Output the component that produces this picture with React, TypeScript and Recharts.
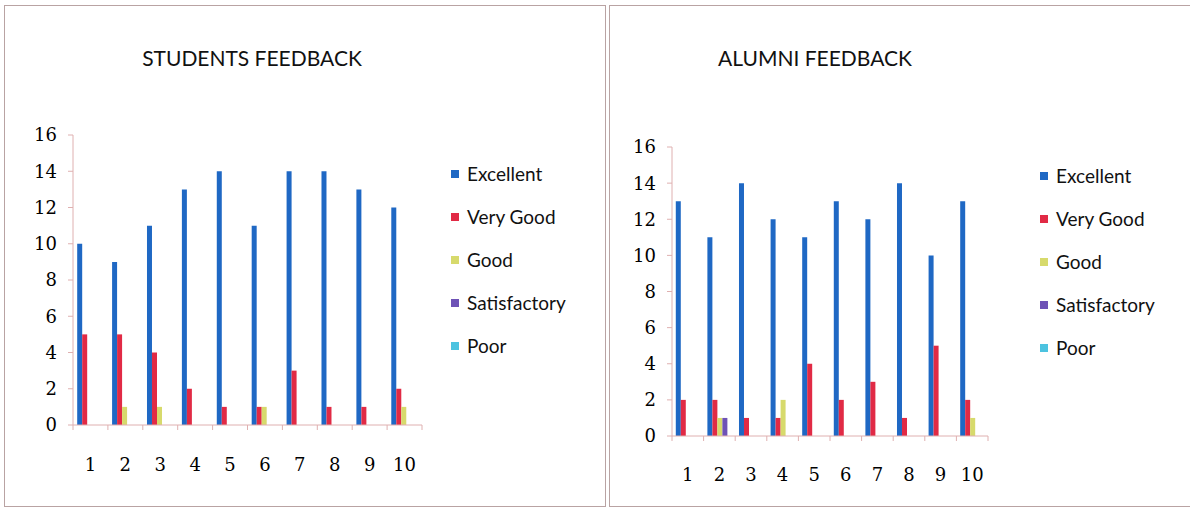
import { BarChart, Bar, XAxis, YAxis, Legend } from 'recharts'

const categories = ['1', '2', '3', '4', '5', '6', '7', '8', '9', '10']
const yTicks = [0, 2, 4, 6, 8, 10, 12, 14, 16]

const studentExcellent = [10, 9, 11, 13, 14, 11, 14, 14, 13, 12]
const studentVeryGood = [5, 5, 4, 2, 1, 1, 3, 1, 1, 2]
const studentGood = [0, 1, 1, 0, 0, 1, 0, 0, 0, 1]
const studentSatisfactory = [0, 0, 0, 0, 0, 0, 0, 0, 0, 0]
const studentPoor = [0, 0, 0, 0, 0, 0, 0, 0, 0, 0]

const alumniExcellent = [13, 11, 14, 12, 11, 13, 12, 14, 10, 13]
const alumniVeryGood = [2, 2, 1, 1, 4, 2, 3, 1, 5, 2]
const alumniGood = [0, 1, 0, 2, 0, 0, 0, 0, 0, 1]
const alumniSatisfactory = [0, 1, 0, 0, 0, 0, 0, 0, 0, 0]
const alumniPoor = [0, 0, 0, 0, 0, 0, 0, 0, 0, 0]

const SERIES = [
  { key: 'Excellent', color: '#1f68c4' },
  { key: 'Very Good', color: '#e12a45' },
  { key: 'Good', color: '#d7da6c' },
  { key: 'Satisfactory', color: '#6e52b6' },
  { key: 'Poor', color: '#4cc3e0' },
]

const AXIS_COLOR = '#dfb0b0'
const NUM_FONT = '"DejaVu Serif", serif'
const TEXT_FONT = 'Lato, "Open Sans", sans-serif'

function buildRows(values: number[][]) {
  return categories.map((cat, i) => {
    const row: Record<string, string | number> = { cat }
    SERIES.forEach((s, j) => {
      row[s.key] = values[j][i]
    })
    return row
  })
}

const studentRows = buildRows([studentExcellent, studentVeryGood, studentGood, studentSatisfactory, studentPoor])
const alumniRows = buildRows([alumniExcellent, alumniVeryGood, alumniGood, alumniSatisfactory, alumniPoor])

function XTick({ x, y, payload, index, labelDy }: any) {
  const half = payload?.offset ?? 0
  return (
    <g>
      <line x1={x - half} x2={x - half} y1={y} y2={y + 5} stroke={AXIS_COLOR} />
      {index === categories.length - 1 && (
        <line x1={x + half} x2={x + half} y1={y} y2={y + 5} stroke={AXIS_COLOR} />
      )}
      <text x={x} y={y + labelDy} textAnchor="middle" fontFamily={NUM_FONT} fontSize={18} fill="#000">
        {payload.value}
      </text>
    </g>
  )
}

function LegendBox() {
  return (
    <div style={{ fontFamily: TEXT_FONT, fontSize: 19, color: '#111' }}>
      {SERIES.map((s) => (
        <div key={s.key} style={{ height: 43, display: 'flex', alignItems: 'center' }}>
          <span style={{ width: 8, height: 8, background: s.color, marginRight: 8, display: 'inline-block' }} />
          {s.key}
        </div>
      ))}
    </div>
  )
}

interface ChartProps {
  title: string
  rows: Record<string, string | number>[]
  left: number
  width: number
  yAxisWidth: number
  top: number
  bottom: number
  right: number
  titleX: number
  legendX: number
  legendY: number
  labelDy: number
}

function FeedbackChart(p: ChartProps) {
  return (
    <div style={{ position: 'absolute', left: p.left, top: 0 }}>
      <div
        style={{
          position: 'absolute',
          left: p.titleX,
          top: 45,
          fontFamily: TEXT_FONT,
          fontSize: 21,
          color: '#111',
          whiteSpace: 'nowrap',
          transform: 'translateX(-50%)',
          zIndex: 1,
        }}
      >
        {p.title}
      </div>
      <BarChart
        width={p.width}
        height={505}
        data={p.rows}
        barGap={0}
        barCategoryGap="12%"
        margin={{ top: p.top, right: p.right, bottom: p.bottom, left: 0 }}
      >
        <XAxis
          dataKey="cat"
          stroke={AXIS_COLOR}
          tickLine={false}
          tickSize={0}
          tickMargin={0}
          tick={<XTick labelDy={p.labelDy} />}
          height={30}
        />
        <YAxis
          domain={[0, 16]}
          ticks={yTicks}
          width={p.yAxisWidth}
          stroke={AXIS_COLOR}
          tickSize={5}
          tickMargin={11}
          tick={{ fill: '#000', fontFamily: NUM_FONT, fontSize: 18 }}
        />
        <Legend
          layout="vertical"
          align="center"
          verticalAlign="middle"
          content={<LegendBox />}
          wrapperStyle={{ left: p.legendX, top: p.legendY, width: 150 }}
        />
        {SERIES.map((s) => (
          <Bar key={s.key} dataKey={s.key} fill={s.color} isAnimationActive={false} />
        ))}
      </BarChart>
    </div>
  )
}

export default function App() {
  return (
    <div style={{ position: 'absolute', left: 0, top: 0, width: 1190, height: 510, background: '#fff', overflow: 'hidden' }}>
      <div style={{ position: 'absolute', left: 4, top: 5, width: 600, height: 500, border: '1px solid #b9a3a3' }} />
      <div style={{ position: 'absolute', left: 609, top: 5, width: 600, height: 500, border: '1px solid #b9a3a3' }} />
      <FeedbackChart
        title="STUDENTS FEEDBACK"
        rows={studentRows}
        left={0}
        width={605}
        yAxisWidth={73}
        top={135}
        bottom={50}
        right={183}
        titleX={252}
        legendX={451}
        legendY={152}
        labelDy={46}
      />
      <FeedbackChart
        title="ALUMNI FEEDBACK"
        rows={alumniRows}
        left={610}
        width={580}
        yAxisWidth={62}
        top={147}
        bottom={39}
        right={202}
        titleX={205}
        legendX={430}
        legendY={154}
        labelDy={45}
      />
    </div>
  )
}
